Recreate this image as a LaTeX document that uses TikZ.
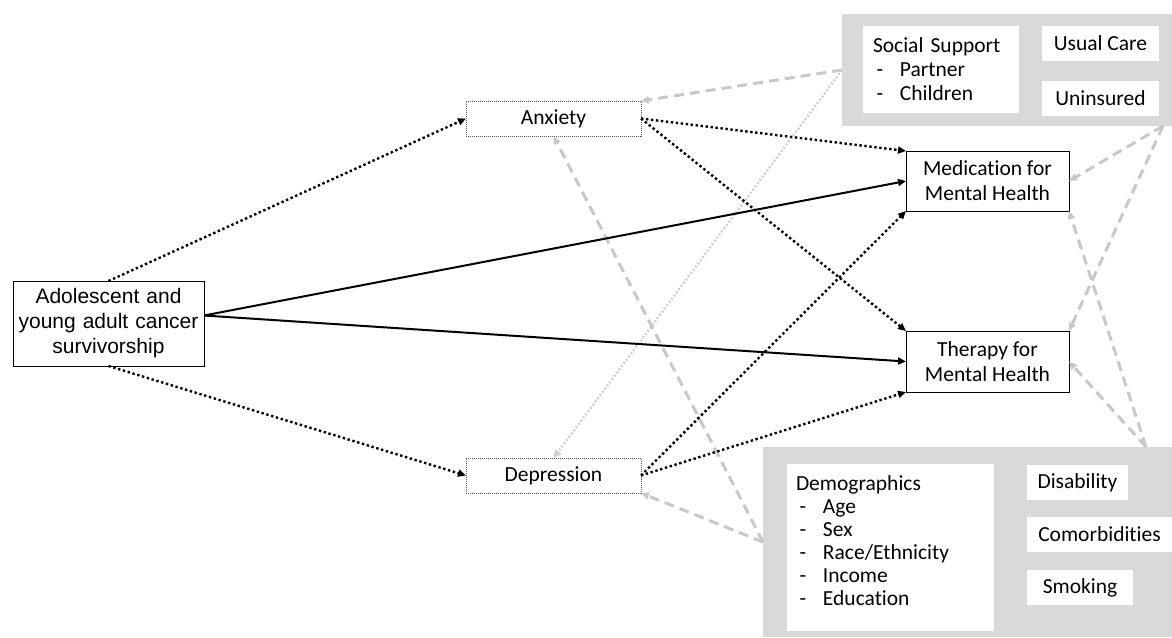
\documentclass[tikz,border=0pt]{standalone}
\usepackage{fontspec}
\setmainfont{Carlito}[Ligatures={NoCommon}]
\newfontfamily\arialfont{Liberation Sans}
\usetikzlibrary{arrows.meta}
\definecolor{boxgray}{RGB}{217,217,217}
\definecolor{linegray}{RGB}{200,200,200}
\definecolor{dotgray}{RGB}{208,208,208}
\begin{document}
\begin{tikzpicture}[x=1pt,y=-1pt,
  every node/.style={inner sep=0pt, outer sep=0pt, font=\fontsize{21.5}{25}\selectfont},
  solidbox/.style={draw=black, line width=1pt, fill=white, align=center, anchor=center},
  dotbox/.style={draw=black!65, line width=0.8pt, dash pattern=on 1pt off 1pt, fill=white, anchor=center},
  graybox/.style={fill=boxgray, anchor=center},
  whitebox/.style={fill=white, anchor=center},
  blacktip/.style={-{Triangle[length=8pt,width=7pt]}},
  graytip/.style={-{Triangle[length=8pt,width=7pt,color=linegray]}},
  blackdot/.style={blacktip, line width=2.4pt, dash pattern=on 2.4pt off 2.6pt},
  blacksolid/.style={blacktip, line width=2pt},
  graydash/.style={graytip, draw=linegray, line width=3pt, dash pattern=on 10pt off 6pt},
  graydot/.style={-{Triangle[length=8pt,width=7pt,color=dotgray]}, draw=dotgray, line width=2.5pt, dash pattern=on 2pt off 2pt}
]
\useasboundingbox (0,0) rectangle (1172,637);

% grey groups
\node[graybox, minimum width=330pt, minimum height=112pt] (topbox) at (1007,70) {};
\node[graybox, minimum width=409pt, minimum height=190pt] (botbox) at (967.5,542) {};

% top group contents
\node[whitebox, minimum width=156pt, minimum height=87pt, text width=136pt, align=left,
      font=\fontsize{21.5}{24}\selectfont] (social) at (941,69.5)
  {Social Support\\ \makebox[27pt][l]{\,-}Partner\\ \makebox[27pt][l]{\,-}Children};
\node[whitebox, minimum width=117pt, minimum height=35pt] (usual) at (1100.5,43.5) {Usual Care};
\node[whitebox, minimum width=117pt, minimum height=35pt] (unins) at (1100.5,98.5) {Uninsured};

% bottom group contents
\node[whitebox, minimum width=207pt, minimum height=167pt] (demo) at (890.5,547.5) {};
\node[anchor=north west, align=left, font=\fontsize{21.5}{23}\selectfont] (demotext) at (796,476)
  {Demographics\\ \makebox[27pt][l]{\,-}Age\\ \makebox[27pt][l]{\,-}Sex\\
   \makebox[27pt][l]{\,-}Race/Ethnicity\\ \makebox[27pt][l]{\,-}Income\\ \makebox[27pt][l]{\,-}Education};
\node[whitebox, minimum width=101pt, minimum height=35pt] (disab) at (1077.5,482.5) {Disability};
\node[whitebox, minimum width=145pt, minimum height=35pt] (comor) at (1099.5,534.5) {Comorbidities};
\node[whitebox, minimum width=106pt, minimum height=35pt] (smok) at (1080,587.5) {Smoking};

% main nodes
\node[solidbox, minimum width=191pt, minimum height=85pt, text width=185pt,
      font=\arialfont\fontsize{21}{25}\selectfont] (adol) at (108.5,323.5)
  {Adolescent and\\ young adult cancer\\ survivorship};
\node[dotbox, minimum width=175pt, minimum height=35pt] (anx) at (553.5,118.5) {Anxiety};
\node[dotbox, minimum width=175pt, minimum height=35pt] (dep) at (553.5,475.5) {Depression};
\node[solidbox, minimum width=163pt, minimum height=60pt] (med) at (987.5,181) {Medication for\\ Mental Health};
\node[solidbox, minimum width=163pt, minimum height=61pt] (ther) at (987.5,361.5) {Therapy for\\ Mental Health};

% grey connectors
\draw[graydash] (topbox.west) -- (anx.north east);
\draw[graydot] (topbox.west) -- (dep.north);
\draw[graydash] (botbox.west) -- (anx.south);
\draw[graydash] (botbox.west) -- (dep.south east);
\coordinate (tbc) at ([xshift=-9pt]topbox.south east);
\draw[graydash] (tbc) -- (med.east);
\draw[graydash] (tbc) -- (ther.north east);
\coordinate (bbc) at ([xshift=-26pt]botbox.north east);
\draw[graydash] (bbc) -- (ther.east);
\draw[graydash] (bbc) -- (med.south east);

% black connectors
\draw[blackdot] (adol.north) -- (anx.west);
\draw[blackdot] (adol.south) -- (dep.west);
\coordinate (adolout) at ([yshift=8pt]adol.east);
\draw[blacksolid] (adolout) -- (med.west);
\draw[blacksolid] (adolout) -- (ther.west);
\draw[blackdot] (anx.east) -- (med.north west);
\draw[blackdot] (anx.east) -- (ther.north west);
\draw[blackdot] (dep.east) -- (med.south west);
\draw[blackdot] (dep.east) -- (ther.south west);
\end{tikzpicture}
\end{document}
